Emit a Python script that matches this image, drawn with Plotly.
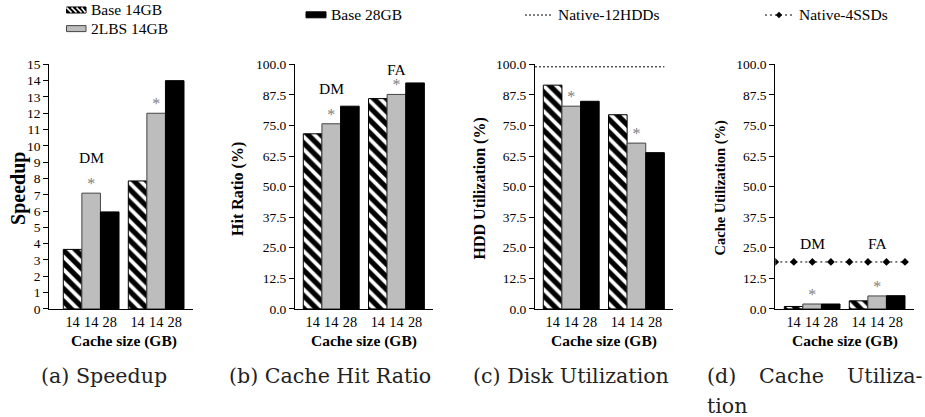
import numpy as np
import plotly.graph_objects as go

W, H = 925, 417

# ---- data -------------------------------------------------------------
GROUPS = ["DM", "FA"]
CACHE_SIZE_LABELS = ["14", "14", "28"]
SERIES = ["Base 14GB", "2LBS 14GB", "Base 28GB"]

speedup_base14 = [3.65, 7.85]
speedup_2lbs14 = [7.1, 12.0]
speedup_base28 = [5.95, 14.0]

hit_base14 = [71.6, 86.0]
hit_2lbs14 = [75.7, 87.7]
hit_base28 = [82.9, 92.4]

hdd_base14 = [91.5, 79.4]
hdd_2lbs14 = [82.9, 67.8]
hdd_base28 = [84.9, 63.9]

cache_base14 = [1.0, 3.3]
cache_2lbs14 = [2.0, 5.3]
cache_base28 = [2.0, 5.4]

native_12hdds = 99.0   # HDD utilization of the native 12-disk array
native_4ssds = 19.2    # cache utilization of the native 4-SSD array

# ---- styling ----------------------------------------------------------
SERIF = "Liberation Serif"
CAPTION_FONT = "DejaVu Serif"
CAPTION_SIZE = 20.6
LEGEND_SIZE = 15.5

# page framing: vertical positions below are given in page pixels
PAGE_TOP, PAGE_H = 8.0, 433.0


def px_x(p):
    return p / W


def px_y(p):
    return 1 - (p * PAGE_H / H - PAGE_TOP) / H


BAR_STYLE = {
    "Base 14GB": dict(color="black", line=dict(color="black", width=1),
                      pattern=dict(shape="\\", fgcolor="white", bgcolor="black",
                                   size=9, solidity=0.42, fillmode="replace")),
    "2LBS 14GB": dict(color="#bdbdbd", line=dict(color="#444444", width=1)),
    "Base 28GB": dict(color="black", line=dict(color="black", width=1)),
}

panels = [
    dict(values=[speedup_base14, speedup_2lbs14, speedup_base28],
         xdom=(49.3, 193.3), xrange=(-1.254, 6.5), ymax=15, dtick=1, fmt="d",
         title="Speedup", title_x=18.5, title_size=20,
         label_y=(9.3, 15.3), caption="(a) Speedup", caption_x=39),
    dict(values=[hit_base14, hit_2lbs14, hit_base28],
         xdom=(295.0, 433.3), xrange=(-0.946, 6.48), ymax=100, dtick=12.5, fmt=".1f",
         title="Hit Ratio (%)", title_x=238.5, title_size=16,
         label_y=(90.0, 97.9), caption="(b) Cache Hit Ratio", caption_x=227),
    dict(values=[hdd_base14, hdd_2lbs14, hdd_base28],
         xdom=(535.0, 673.3), xrange=(-0.946, 6.48), ymax=100, dtick=12.5, fmt=".1f",
         title="HDD Utilization (%)", title_x=480, title_size=16,
         label_y=(106.5, 106.5), caption="(c) Disk Utilization", caption_x=471),
    dict(values=[cache_base14, cache_2lbs14, cache_base28],
         xdom=(775.3, 914.0), xrange=(-0.985, 6.485), ymax=100, dtick=12.5, fmt=".1f",
         title="Cache Utilization (%)", title_x=720, title_size=14.5,
         label_y=(26.7, 26.7), caption=None, caption_x=705),
]

Y_TOP_PX, Y_BOT_PX = 65.0, 309.3
GROUP_STEP = 3.5  # bar slots per group incl. the gap

fig = go.Figure()
annotations = []
shapes = []
layout = dict(
    width=W, height=H, margin=dict(l=0, r=0, t=0, b=0),
    paper_bgcolor="white", plot_bgcolor="white", showlegend=False,
    barmode="overlay", font=dict(family=SERIF, color="black", size=14),
)

tick_positions = [g * GROUP_STEP + s for g in range(len(GROUPS)) for s in range(len(SERIES))]
tick_labels = CACHE_SIZE_LABELS * len(GROUPS)

for i, p in enumerate(panels, start=1):
    xa, ya = f"x{i}", f"y{i}"
    for s, name in enumerate(SERIES):
        xs = [g * GROUP_STEP + s for g in range(len(GROUPS))]
        fig.add_trace(go.Bar(
            x=xs, y=p["values"][s], width=1, name=name,
            marker=BAR_STYLE[name], xaxis=xa, yaxis=ya,
        ))

    # asterisks marking the 2LBS bars
    fig.add_trace(go.Scatter(
        x=[g * GROUP_STEP + 1 for g in range(len(GROUPS))], y=p["values"][1],
        mode="text", text=["*"] * len(GROUPS), textposition="top center",
        textfont=dict(family=SERIF, size=16, color="#7f7f7f"),
        xaxis=xa, yaxis=ya, hoverinfo="skip",
    ))

    for g in range(len(GROUPS)):
        annotations.append(dict(
            x=g * GROUP_STEP + 1, y=p["label_y"][g], xref=xa, yref=ya,
            text=GROUPS[g], showarrow=False, yanchor="middle",
            font=dict(family=SERIF, size=15.5, color="black"),
        ))

    axis_key = "" if i == 1 else str(i)
    layout[f"xaxis{axis_key}"] = dict(
        domain=[px_x(p["xdom"][0]), px_x(p["xdom"][1])], range=list(p["xrange"]),
        anchor=ya, showgrid=False, zeroline=False, showline=True,
        linecolor="black", linewidth=1, ticks="",
        tickmode="array", tickvals=tick_positions, ticktext=tick_labels,
        tickfont=dict(family=SERIF, size=14.3, color="black"),
    )
    layout[f"yaxis{axis_key}"] = dict(
        domain=[px_y(Y_BOT_PX), px_y(Y_TOP_PX)], range=[0, p["ymax"]],
        anchor=xa, showgrid=False, zeroline=False, showline=True,
        linecolor="black", linewidth=1, ticks="outside", ticklen=5,
        tickcolor="black", dtick=p["dtick"], tick0=0, tickformat=p["fmt"],
        tickfont=dict(family=SERIF, size=13.5, color="black"),
    )

    # axis titles
    annotations.append(dict(
        x=px_x(p["title_x"]), y=px_y(189), xref="paper", yref="paper",
        text=p["title"], textangle=-90, showarrow=False,
        xanchor="center", yanchor="middle",
        font=dict(family=SERIF, size=p["title_size"], color="black", weight="bold"),
    ))
    annotations.append(dict(
        x=2.75, y=px_y(341.5), xref=xa, yref="paper",
        text="Cache size (GB)", showarrow=False,
        xanchor="center", yanchor="middle",
        font=dict(family=SERIF, size=15.5, color="black", weight="bold"),
    ))

    if p["caption"]:
        annotations.append(dict(
            x=px_x(p["caption_x"]), y=px_y(376), xref="paper", yref="paper",
            text=p["caption"], showarrow=False, xanchor="left", yanchor="middle",
            font=dict(family=CAPTION_FONT, size=CAPTION_SIZE, color="#222222"),
        ))

# justified two-line caption of panel (d)
for word, xpx, anchor, ypx in [("(d)", 705, "left", 376), ("Cache", 757, "left", 376),
                               ("Utiliza-", 925, "right", 376), ("tion", 705, "left", 406)]:
    annotations.append(dict(
        x=px_x(xpx), y=px_y(ypx), xref="paper", yref="paper",
        text=word, showarrow=False, xanchor=anchor, yanchor="middle",
        font=dict(family=CAPTION_FONT, size=CAPTION_SIZE, color="#222222"),
    ))

# native reference lines
p3 = panels[2]
fig.add_trace(go.Scatter(
    x=[p3["xrange"][0], max(tick_positions) + 0.5], y=[native_12hdds] * 2,
    mode="lines", name="Native-12HDDs", xaxis="x3", yaxis="y3",
    line=dict(color="black", width=1, dash="2px,2px"),
))
p4 = panels[3]
ssd_x = np.linspace(p4["xrange"][0], max(tick_positions) + 0.5, 8)
fig.add_trace(go.Scatter(
    x=ssd_x, y=[native_4ssds] * len(ssd_x),
    mode="lines+markers", name="Native-4SSDs", xaxis="x4", yaxis="y4",
    line=dict(color="black", width=1, dash="2px,3px"),
    marker=dict(symbol="diamond", size=6, color="black"),
))

# ---- legend (flat patches and line samples across the top) -------------


def legend_rect(x0, x1, yc, fill, outline):
    shapes.append(dict(type="rect", xref="paper", yref="paper",
                       x0=px_x(x0), x1=px_x(x1), y0=px_y(yc + 3), y1=px_y(yc - 3),
                       fillcolor=fill, line=dict(color=outline, width=1)))


def legend_text(x, yc, text):
    annotations.append(dict(x=px_x(x), y=px_y(yc), xref="paper", yref="paper",
                            text=text, showarrow=False, xanchor="left", yanchor="middle",
                            font=dict(family=SERIF, size=LEGEND_SIZE, color="black")))


legend_rect(66.5, 86, 10.7, "black", "black")
for hx in (68, 73, 78, 83):
    shapes.append(dict(type="line", xref="paper", yref="paper",
                       x0=px_x(hx - 1.5), x1=px_x(min(hx + 3.5, 85.5)),
                       y0=px_y(8.2), y1=px_y(13.2), line=dict(color="white", width=1.6)))
legend_text(88.5, 10.7, "Base 14GB")

legend_rect(66.5, 86, 29.3, "#bdbdbd", "#444444")
legend_text(88.5, 29.3, "2LBS 14GB")

legend_rect(306, 326, 15.5, "black", "black")
legend_text(329, 15.5, "Base 28GB")

shapes.append(dict(type="line", xref="paper", yref="paper",
                   x0=px_x(525), x1=px_x(553), y0=px_y(15.7), y1=px_y(15.7),
                   line=dict(color="black", width=1, dash="2px,2px")))
legend_text(555.5, 15.5, "Native-12HDDs")

shapes.append(dict(type="line", xref="paper", yref="paper",
                   x0=px_x(765), x1=px_x(793), y0=px_y(15.7), y1=px_y(15.7),
                   line=dict(color="black", width=1, dash="2px,3px")))
dcx, dcy, dr = 779, 15.7, 3.2
shapes.append(dict(type="path", xref="paper", yref="paper",
                   path=(f"M{px_x(dcx)},{px_y(dcy - dr)} L{px_x(dcx + dr)},{px_y(dcy)} "
                         f"L{px_x(dcx)},{px_y(dcy + dr)} L{px_x(dcx - dr)},{px_y(dcy)} Z"),
                   fillcolor="black", line=dict(color="black", width=0)))
legend_text(796.5, 15.5, "Native-4SSDs")

layout["annotations"] = annotations
layout["shapes"] = shapes
fig.update_layout(**layout)
fig.write_html("out.html")
